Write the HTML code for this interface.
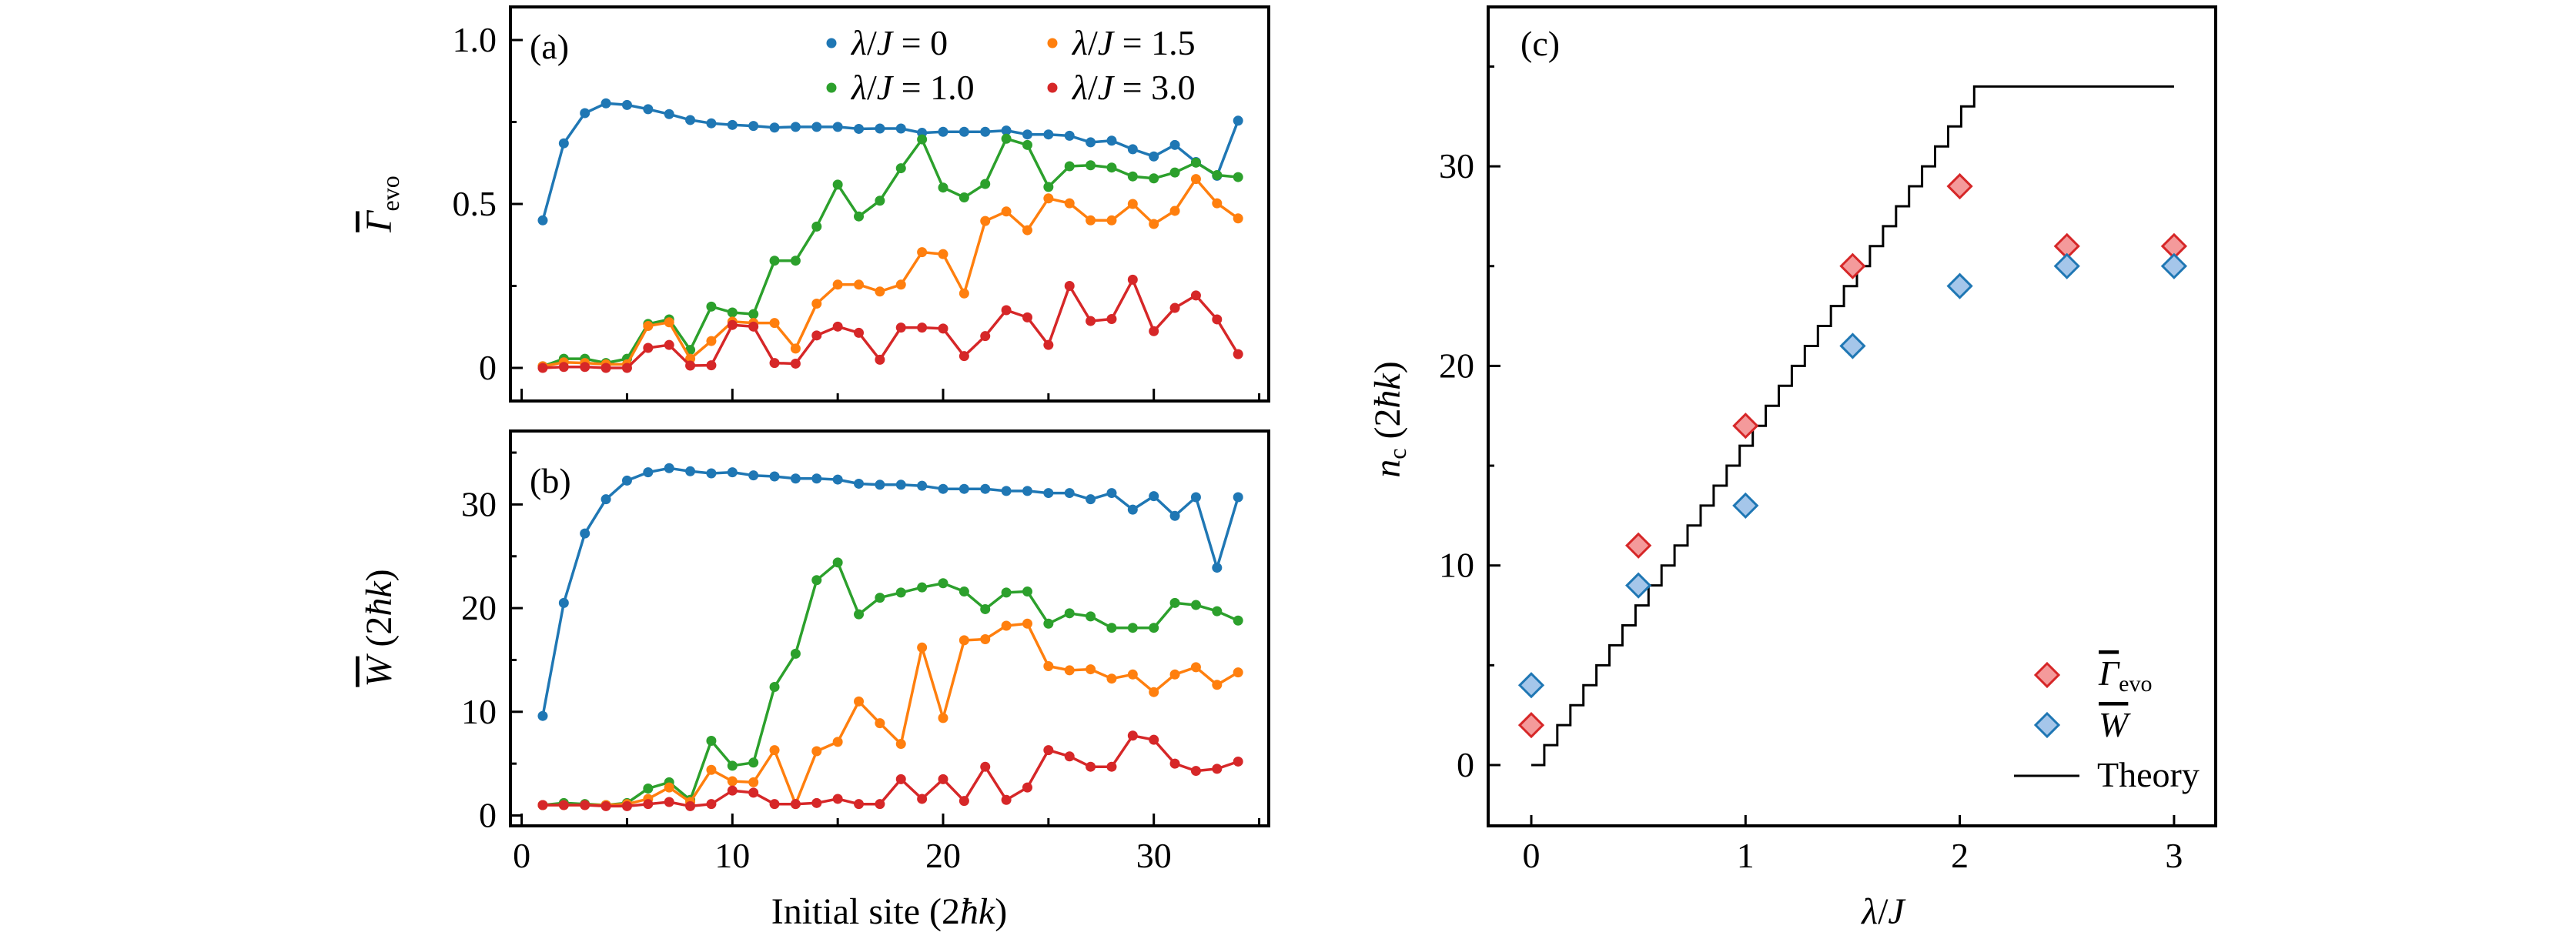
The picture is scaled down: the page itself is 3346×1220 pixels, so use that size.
<!DOCTYPE html>
<html><head><meta charset="utf-8"><style>
html,body{margin:0;padding:0;background:#fff;}
svg{display:block;}
svg text{font-family:"Liberation Serif","DejaVu Serif",serif;}
</style></head><body>
<svg id="fig" width="3346" height="1220" viewBox="0 0 3346 1220" xmlns="http://www.w3.org/2000/svg" font-family="Liberation Serif, DejaVu Serif, serif"></svg>
<script>
const sites = [1,2,3,4,5,6,7,8,9,10,11,12,13,14,15,16,17,18,19,20,21,22,23,24,25,26,27,28,29,30,31,32,33,34];
const gammaL0 = [0.45,0.685,0.777,0.807,0.802,0.789,0.774,0.756,0.746,0.741,0.738,0.733,0.735,0.735,0.735,0.729,0.730,0.730,0.717,0.72,0.72,0.72,0.724,0.712,0.712,0.708,0.688,0.693,0.667,0.645,0.68,0.628,0.586,0.754];
const gammaL10 = [0.005,0.028,0.028,0.015,0.028,0.134,0.148,0.055,0.187,0.169,0.164,0.327,0.327,0.431,0.559,0.462,0.51,0.609,0.697,0.55,0.52,0.561,0.699,0.68,0.552,0.615,0.618,0.611,0.584,0.578,0.596,0.626,0.588,0.582];
const gammaL15 = [0.005,0.017,0.015,0.011,0.011,0.128,0.139,0.028,0.082,0.141,0.137,0.137,0.059,0.196,0.254,0.254,0.233,0.254,0.353,0.347,0.227,0.448,0.477,0.42,0.517,0.502,0.45,0.45,0.5,0.439,0.479,0.576,0.502,0.456];
const gammaL30 = [0,0.003,0.003,0,0,0.061,0.07,0.007,0.008,0.131,0.126,0.015,0.013,0.099,0.126,0.107,0.025,0.123,0.123,0.12,0.036,0.097,0.176,0.154,0.07,0.25,0.143,0.149,0.269,0.112,0.183,0.221,0.148,0.042];
const wL0 = [9.6,20.5,27.2,30.5,32.3,33.1,33.5,33.2,33.0,33.1,32.8,32.7,32.5,32.5,32.4,32.0,31.9,31.9,31.8,31.5,31.5,31.5,31.3,31.3,31.1,31.1,30.5,31.1,29.5,30.8,28.9,30.7,23.9,30.7];
const wL10 = [1.0,1.2,1.1,1.0,1.2,2.6,3.2,1.5,7.2,4.8,5.1,12.4,15.6,22.7,24.4,19.4,21.0,21.5,22.0,22.4,21.6,19.9,21.5,21.6,18.5,19.5,19.2,18.1,18.1,18.1,20.5,20.3,19.7,18.8];
const wL15 = [1,1,1,1,1.1,1.6,2.7,1.3,4.4,3.3,3.2,6.3,1.1,6.2,7.1,11.0,8.9,6.9,16.2,9.4,16.9,17.0,18.3,18.5,14.4,14.0,14.1,13.2,13.6,11.9,13.6,14.3,12.6,13.8];
const wL30 = [1.0,1.0,1.0,0.9,0.9,1.1,1.3,0.9,1.1,2.4,2.2,1.1,1.1,1.2,1.6,1.1,1.1,3.5,1.6,3.5,1.4,4.7,1.5,2.7,6.3,5.7,4.7,4.7,7.7,7.3,5.0,4.3,4.5,5.2];
const seriesNames = ["lambda-0","lambda-1.0","lambda-1.5","lambda-3.0"];
const seriesColors = ["#1f77b4","#2ca02c","#ff7f0e","#d62728"];
const lambdas = [0,0.5,1,1.5,2,2.5,3];
const ncGamma = [2,11,17,25,29,26,26];
const ncW = [4,9,13,21,24,25,25];
const theoryStep = 0.0608;
const theoryMax = 34;
const theoryEnd = 3;
const aTicks = [0,0.5,1.0];
const aTickLabels = ["0","0.5","1.0"];
const bTicks = [0,10,20,30];
const xTicksAB = [0,10,20,30];
const cYTicks = [0,10,20,30];
const cXTicks = [0,1,2,3];

const NS="http://www.w3.org/2000/svg";
const SERIF='Liberation Serif, DejaVu Serif, serif';
const svg=document.getElementById('fig');
function mk(tag,attrs,parent){const e=document.createElementNS(NS,tag);for(const k in attrs)e.setAttribute(k,attrs[k]);if(tag==='text')e.setAttribute('font-family',SERIF);(parent||svg).appendChild(e);return e;}

const xAB = v => 677.6 + v*27.37;
const yA = v => 478 - v*426;
const yB = v => 1059.5 - v*13.47;
const xC = v => 1989 + v*278.3;
const yC = v => 994 - v*25.93;

function frame(x0,y0,x1,y1,name){
  const r=mk('rect',{x:x0,y:y0,width:x1-x0,height:y1-y0,fill:'none',stroke:'#000','stroke-width':4});
  
  
}
function tickLine(x1,y1,x2,y2,name){
  const l=mk('line',{x1,y1,x2,y2,stroke:'#000','stroke-width':3});
  
  
}
function label(x,y,txt,anchor,size,name){
  const t=mk('text',{x,y,'text-anchor':anchor,'font-size':size,fill:'#000'});
  t.textContent=txt;
  
  
  return t;
}

// ---- Panel a ----
frame(663,9,1648,521,'panel-a-frame');
for(let i=0;i<aTicks.length;i++){
  const y=yA(aTicks[i]);
  tickLine(663,y,679,y,'panel-a-y-tick');
  label(645,y+15,aTickLabels[i],'end',46,'panel-a-y-tick-label');
}
for(let v=0.25;v<1.1;v+=0.5){tickLine(663,yA(v),671,yA(v),'panel-a-y-minor-tick');}
for(let v=0;v<=35;v+=5){const x=xAB(v);tickLine(x,521,x,v%10===0?505:511,'panel-a-x-tick');}
label(688,76,'(a)','start',46,'panel-a-tag');

// ---- Panel b ----
frame(663,560,1648,1073,'panel-b-frame');
for(let i=0;i<bTicks.length;i++){
  const y=yB(bTicks[i]);
  tickLine(663,y,679,y,'panel-b-y-tick');
  label(645,y+15,String(bTicks[i]),'end',46,'panel-b-y-tick-label');
}
for(let v=5;v<=35;v+=10){tickLine(663,yB(v),671,yB(v),'panel-b-y-minor-tick');}
for(let v=0;v<=35;v+=5){const x=xAB(v);tickLine(x,1073,x,v%10===0?1057:1063,'panel-b-x-tick');}
for(let i=0;i<xTicksAB.length;i++){label(xAB(xTicksAB[i]),1127,String(xTicksAB[i]),'middle',46,'panel-b-x-tick-label');}
label(688,640,'(b)','start',46,'panel-b-tag');
{
  const t=label(1155,1200,'','middle',48,'x-axis-title-initial-site');
  t.innerHTML='Initial site (2<tspan font-style="italic">ħk</tspan>)';
}
{
  const t=mk('text',{x:0,y:0,'text-anchor':'middle','font-size':48,transform:'translate(508,265) rotate(-90)'});
  t.innerHTML='<tspan font-style="italic" text-decoration="overline">Γ</tspan><tspan font-size="32" dy="10">evo</tspan>';
  
  
  const t2=mk('text',{x:0,y:0,'text-anchor':'middle','font-size':48,transform:'translate(508,816) rotate(-90)'});
  t2.innerHTML='<tspan font-style="italic" text-decoration="overline">W</tspan> (2<tspan font-style="italic">ħk</tspan>)';
  
  
}

function drawSeries(vals,color,yf,name){
  const g=mk('g',{});
  
  
  const pts=sites.map((s,i)=>xAB(s).toFixed(1)+','+yf(vals[i]).toFixed(1)).join(' ');
  const pl=mk('polyline',{points:pts,fill:'none',stroke:color,'stroke-width':3.5,'stroke-linejoin':'round'},g);
  
  
  sites.forEach((s,i)=>{
    const c=mk('circle',{cx:xAB(s),cy:yf(vals[i]),r:6.5,fill:color},g);
    
    
  });
}
const gammaSeries=[gammaL0,gammaL10,gammaL15,gammaL30];
const wSeries=[wL0,wL10,wL15,wL30];
for(let k=0;k<4;k++){drawSeries(gammaSeries[k],seriesColors[k],yA,'panel-a-'+seriesNames[k]);}
for(let k=0;k<4;k++){drawSeries(wSeries[k],seriesColors[k],yB,'panel-b-'+seriesNames[k]);}

const legPos=[[1080,56,'0'],[1080,114,'1.0'],[1367,56,'1.5'],[1367,114,'3.0']];
for(let k=0;k<4;k++){
  const [lx,ly,val]=legPos[k];
  const g=mk('g',{});
  
  
  mk('circle',{cx:lx,cy:ly,r:6.5,fill:seriesColors[k]},g);
  const t=mk('text',{x:lx+26,y:ly+15,'font-size':46},g);
  t.innerHTML='<tspan font-style="italic">λ</tspan>/<tspan font-style="italic">J</tspan> = '+val;
}

// ---- Panel c ----
frame(1933,9,2878,1073,'panel-c-frame');
for(let i=0;i<cYTicks.length;i++){
  const y=yC(cYTicks[i]);
  tickLine(1933,y,1949,y,'panel-c-y-tick');
  label(1915,y+15,String(cYTicks[i]),'end',46,'panel-c-y-tick-label');
}
for(let v=5;v<=35;v+=10){tickLine(1933,yC(v),1941,yC(v),'panel-c-y-minor-tick');}
for(let i=0;i<cXTicks.length;i++){
  const x=xC(cXTicks[i]);
  tickLine(x,1073,x,1059,'panel-c-x-tick');
  label(x,1127,String(cXTicks[i]),'middle',46,'panel-c-x-tick-label');
}
label(1975,72,'(c)','start',46,'panel-c-tag');
{
  const t=label(2446,1200,'','middle',48,'panel-c-x-axis-title');
  t.innerHTML='<tspan font-style="italic">λ</tspan>/<tspan font-style="italic">J</tspan>';
  const t2=mk('text',{x:0,y:0,'text-anchor':'middle','font-size':48,transform:'translate(1818,545) rotate(-90)'});
  t2.innerHTML='<tspan font-style="italic">n</tspan><tspan font-size="32" dy="8">c</tspan><tspan dy="-8"> (2<tspan font-style="italic">ħk</tspan>)</tspan>';
  
  
}
{
  let d='M'+xC(0)+','+yC(0);
  for(let n=1;n<=theoryMax;n++){
    const x=xC(n*theoryStep);
    d+=' L'+x.toFixed(1)+','+yC(n-1).toFixed(1)+' L'+x.toFixed(1)+','+yC(n).toFixed(1);
  }
  d+=' L'+xC(theoryEnd)+','+yC(theoryMax);
  const p=mk('path',{d,fill:'none',stroke:'#000','stroke-width':3});
  
  
}
function diamond(cx,cy,fill,stroke,name){
  const s=15;
  const p=mk('polygon',{points:`${cx},${cy-s} ${cx+s},${cy} ${cx},${cy+s} ${cx-s},${cy}`,fill,stroke,'stroke-width':3});
  
  
}
lambdas.forEach((l,i)=>diamond(xC(l),yC(ncGamma[i]),'#f49a9b','#d62728','nc-gamma-point'));
lambdas.forEach((l,i)=>diamond(xC(l),yC(ncW[i]),'#a5c6ea','#1f77b4','nc-w-point'));
diamond(2659,877,'#f49a9b','#d62728','legend-gamma-marker');
diamond(2659,942,'#a5c6ea','#1f77b4','legend-w-marker');
tickLine(2616,1008,2701,1008,'legend-theory-line');
{
  const t1=mk('text',{x:2726,y:890,'font-size':46});
  t1.innerHTML='<tspan font-style="italic" text-decoration="overline">Γ</tspan><tspan font-size="30" dy="8">evo</tspan>';
  
  
  const t2=mk('text',{x:2726,y:957,'font-size':46});
  t2.innerHTML='<tspan font-style="italic" text-decoration="overline">W</tspan>';
  
  
  label(2724,1022,'Theory','start',46,'legend-theory-label');
}
</script>
</body></html>
